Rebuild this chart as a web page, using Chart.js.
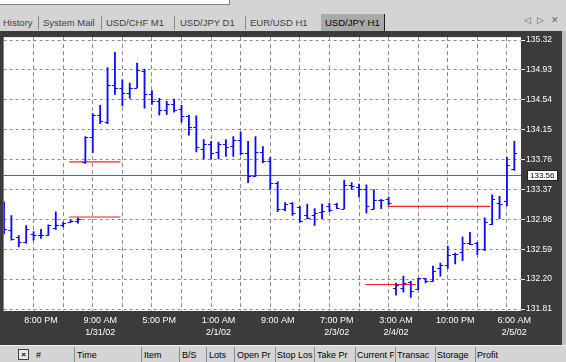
<!DOCTYPE html>
<html>
<head>
<meta charset="utf-8">
<script src="https://cdn.jsdelivr.net/npm/chart.js@4.4.1/dist/chart.umd.min.js"></script>
<style>
  body { margin: 0; width: 566px; height: 362px; overflow: hidden; position: relative;
         background: #d4d4d4; font-family: 'Liberation Sans', Arial, sans-serif; font-size: 9.5px; color: #000; }
  #topbox { position: absolute; left: 0; top: 0; width: 229px; height: 4px; background: #fff;
            border-right: 1px solid #808080; border-bottom: 1px solid #808080; }
  #tabs { position: absolute; left: 0; top: 11px; width: 566px; height: 20px; }
  .tab { position: absolute; top: 3px; height: 17px; line-height: 17px; color: #404040; white-space: nowrap; }
  .tab.on { background: #a9a9a9; color: #000; padding: 0 4px; border-right: 1px solid #202020; }
  .sep { position: absolute; top: 5px; width: 1px; height: 14px; background: #8a8a8a; }
  .nav { position: absolute; top: 4px; font-family: 'DejaVu Sans', sans-serif; font-size: 9px; color: #606060; }
  #chart-wrap { position: absolute; left: 0; top: 31px; width: 562px; height: 314px; background: #3b3b3b; }
  #rborder { position: absolute; left: 562px; top: 31px; width: 4px; height: 314px; background: #bdbdbd; }
  #terminal { position: absolute; left: 0; top: 345px; width: 566px; height: 17px; background: #d4d4d4;
              border-top: 1px solid #f0f0f0; font-size: 9px; }
  .col { position: absolute; top: 2px; line-height: 14px; white-space: nowrap; overflow: hidden; }
  .csep { position: absolute; top: 1px; width: 1px; height: 15px; background: #8a8a8a; }
  #xbtn { position: absolute; left: 18px; top: 3px; width: 9px; height: 9px; border: 1px solid #404040;
          background: #e8e8e8; font-size: 8px; line-height: 9px; text-align: center; font-weight: bold; }
</style>
</head>
<body>
<div id="topbox"></div>
<div id="tabs">
  <span class="tab" style="left:3px">History</span>
  <span class="sep" style="left:38px"></span>
  <span class="tab" style="left:43px">System Mail</span>
  <span class="sep" style="left:101px"></span>
  <span class="tab" style="left:106px">USD/CHF M1</span>
  <span class="sep" style="left:174px"></span>
  <span class="tab" style="left:180px">USD/JPY D1</span>
  <span class="sep" style="left:245px"></span>
  <span class="tab" style="left:250px">EUR/USD H1</span>
  <span class="tab on" style="left:321px">USD/JPY H1</span>
  <span class="nav" style="left:524px">◁</span>
  <span class="nav" style="left:537px">▷</span>
  <span class="nav" style="left:551px">✕</span>
</div>
<div id="chart-wrap"><canvas id="chart" width="562" height="314"></canvas></div>
<div id="rborder"></div>
<div id="terminal">
  <div id="xbtn">×</div>
  <span class="col" style="left:36px">#</span>
  <span class="csep" style="left:74px"></span><span class="col" style="left:77px;width:63px">Time</span>
  <span class="csep" style="left:141px"></span><span class="col" style="left:144px;width:34px">Item</span>
  <span class="csep" style="left:179px"></span><span class="col" style="left:182px;width:23px">B/S</span>
  <span class="csep" style="left:206px"></span><span class="col" style="left:209px;width:24px">Lots</span>
  <span class="csep" style="left:234px"></span><span class="col" style="left:237px;width:37px">Open Pr</span>
  <span class="csep" style="left:275px"></span><span class="col" style="left:277px;width:36px">Stop Los</span>
  <span class="csep" style="left:314px"></span><span class="col" style="left:317px;width:37px">Take Pr</span>
  <span class="csep" style="left:355px"></span><span class="col" style="left:357px;width:37px">Current P</span>
  <span class="csep" style="left:395px"></span><span class="col" style="left:397px;width:37px">Transac</span>
  <span class="csep" style="left:435px"></span><span class="col" style="left:437px;width:37px">Storage</span>
  <span class="csep" style="left:475px"></span><span class="col" style="left:477px">Profit</span>
</div>
<script>
// USD/JPY H1 bars, oldest first (bar index = position on the time axis)
const BAR_OPEN = [
  133.15, 132.84, 132.75, 132.68, 132.79, 132.77, 132.78, 132.87, 132.90, 132.95,
  132.96, 133.73, 134.05, 134.34, 134.25, 134.74, 134.70, 134.63, 134.70, 134.92,
  134.62, 134.53, 134.41, 134.48, 134.42, 134.33, 134.18, 133.90, 133.96, 133.86,
  133.96, 133.94, 134.02, 133.84, 133.54, 133.86, 133.74, 133.46, 133.12, 133.19,
  133.14, 133.04, 133.04, 133.08, 133.15, 133.18, 133.12, 133.43, 133.40, 133.37,
  133.12, 133.23, 133.24, 132.08, 132.09, 132.16, 132.07, 132.21, 132.18, 132.35,
  132.39, 132.53, 132.55, 132.67, 132.67, 132.59, 132.92, 133.19, 133.22, 133.64
];
const BAR_HIGH = [
  133.21, 133.03, 132.77, 132.90, 132.82, 132.85, 132.91, 133.08, 132.94, 132.97,
  133.00, 134.06, 134.36, 134.47, 134.96, 135.16, 134.80, 134.76, 135.02, 134.94,
  134.66, 134.56, 134.52, 134.55, 134.47, 134.34, 134.33, 134.02, 134.00, 133.99,
  134.02, 134.06, 134.12, 134.00, 134.06, 133.93, 133.79, 133.47, 133.20, 133.20,
  133.15, 133.18, 133.12, 133.18, 133.19, 133.19, 133.49, 133.46, 133.44, 133.43,
  133.37, 133.24, 133.27, 132.15, 132.24, 132.17, 132.21, 132.21, 132.37, 132.41,
  132.63, 132.54, 132.75, 132.81, 132.68, 133.00, 133.30, 133.28, 133.79, 134.00
];
const BAR_LOW = [
  132.79, 132.71, 132.62, 132.67, 132.71, 132.73, 132.77, 132.85, 132.88, 132.94,
  132.93, 133.71, 133.85, 134.23, 134.23, 134.61, 134.46, 134.56, 134.70, 134.43,
  134.48, 134.34, 134.35, 134.38, 134.25, 134.08, 133.86, 133.77, 133.77, 133.77,
  133.80, 133.80, 133.82, 133.46, 133.54, 133.72, 133.37, 133.08, 133.09, 133.03,
  132.94, 132.99, 132.90, 132.99, 133.08, 133.12, 133.12, 133.37, 133.27, 133.06,
  133.11, 133.12, 133.17, 131.99, 132.03, 131.96, 132.06, 132.15, 132.17, 132.24,
  132.34, 132.40, 132.44, 132.65, 132.52, 132.57, 132.91, 132.99, 133.16, 133.62
];
const BAR_CLOSE = [
  132.86, 132.72, 132.69, 132.85, 132.77, 132.78, 132.90, 132.90, 132.93, 132.96,
  132.99, 134.05, 134.34, 134.26, 134.74, 134.70, 134.63, 134.70, 134.93, 134.61,
  134.53, 134.41, 134.48, 134.41, 134.33, 134.18, 133.92, 133.96, 133.85, 133.96,
  133.93, 134.02, 133.84, 133.54, 133.86, 133.74, 133.46, 133.12, 133.18, 133.06,
  132.96, 133.00, 133.06, 133.09, 133.10, 133.13, 133.43, 133.41, 133.38, 133.15,
  133.23, 133.23, 133.19, 132.12, 132.15, 132.05, 132.21, 132.18, 132.31, 132.39,
  132.52, 132.53, 132.67, 132.66, 132.59, 132.94, 133.25, 133.18, 133.69, 133.84
];

// time axis labels and the bars they sit under
const LABEL_BARS = [5, 13, 21, 29, 37, 45, 53, 61, 69];
const TIME_LABELS = [
  ['8:00 PM'], ['9:00 AM', '1/31/02'], ['5:00 PM'], ['1:00 AM', '2/1/02'], ['9:00 AM'],
  ['7:00 PM', '2/3/02'], ['3:00 AM', '2/4/02'], ['10:00 PM'], ['6:00 AM', '2/5/02']
];

// price scale
const PRICE_TICKS = [135.32, 134.93, 134.54, 134.15, 133.76, 133.37, 132.98, 132.59, 132.20, 131.81];
const Y_MIN = 131.784;
const Y_MAX = 135.359;
const X_MIN = -0.05;
const X_MAX = 69.9;
const BID_PRICE = 133.56;

// order levels drawn as red lines: price, first bar, last bar
const ORDER_PRICE = [133.73, 133.01, 133.15, 132.13];
const ORDER_FROM = [8.81, 8.81, 51.87, 48.82];
const ORDER_TO = [15.75, 15.75, 65.74, 55.67];

const GRID = '#8a8a8a';
const BAR_BLUE = '#0a0aff';
const FONT = "'Liberation Sans', Arial, sans-serif";

const BAR_INDEX = BAR_HIGH.map((_, i) => i);

// white plot area, bid line under the bars, bid box on the price scale
const terminalPlot = {
  id: 'terminalPlot',
  beforeDraw(chart) {
    const { ctx, chartArea: a } = chart;
    ctx.save();
    ctx.fillStyle = '#ffffff';
    ctx.fillRect(a.left, a.top, a.right - a.left, a.bottom - a.top);
    ctx.restore();
  },
  beforeDatasetsDraw(chart) {
    const { ctx, chartArea: a, scales: { y } } = chart;
    const py = Math.round(y.getPixelForValue(BID_PRICE)) + 0.5;
    ctx.save();
    ctx.strokeStyle = '#2a8080';
    ctx.lineWidth = 1;
    ctx.beginPath();
    ctx.moveTo(a.left, py);
    ctx.lineTo(a.right, py);
    ctx.stroke();
    ctx.restore();
  },
  afterDraw(chart) {
    const { ctx, chartArea: a, scales: { y } } = chart;
    const py = Math.round(y.getPixelForValue(BID_PRICE));
    ctx.save();
    ctx.fillStyle = '#ffffff';
    ctx.fillRect(a.right + 6, py - 5, 31, 11);
    ctx.strokeStyle = '#202020';
    ctx.strokeRect(a.right + 6.5, py - 4.5, 30, 10);
    ctx.fillStyle = '#000000';
    ctx.font = '8px ' + FONT;
    ctx.textBaseline = 'middle';
    ctx.fillText(BID_PRICE.toFixed(2), a.right + 9, py + 0.5);
    ctx.restore();
  }
};

// open tick on the left, close tick on the right of each bar
const ohlcTicks = {
  id: 'ohlcTicks',
  afterDatasetsDraw(chart) {
    const { ctx, chartArea: a, scales: { x, y } } = chart;
    ctx.save();
    ctx.beginPath();
    ctx.rect(a.left, a.top, a.right - a.left, a.bottom - a.top);
    ctx.clip();
    ctx.strokeStyle = BAR_BLUE;
    ctx.lineWidth = 1;
    BAR_INDEX.forEach(i => {
      const px = x.getPixelForValue(i);
      const po = Math.round(y.getPixelForValue(BAR_OPEN[i])) + 0.5;
      const pc = Math.round(y.getPixelForValue(BAR_CLOSE[i])) + 0.5;
      ctx.beginPath();
      ctx.moveTo(px - 3, po);
      ctx.lineTo(px, po);
      ctx.moveTo(px, pc);
      ctx.lineTo(px + 3, pc);
      ctx.stroke();
    });
    ctx.restore();
  }
};

const orderSets = ORDER_PRICE.map((p, k) => ({
  type: 'line',
  data: [{ x: ORDER_FROM[k], y: p }, { x: ORDER_TO[k], y: p }],
  borderColor: '#ff2020',
  borderWidth: 1.1,
  pointRadius: 0,
  order: 2
}));

new Chart(document.getElementById('chart'), {
  type: 'bar',
  data: {
    datasets: [{
      type: 'bar',
      data: BAR_INDEX.map(i => ({ x: i, y: [BAR_LOW[i], BAR_HIGH[i]] })),
      backgroundColor: BAR_BLUE,
      borderWidth: 0,
      barThickness: 1.15,
      grouped: false,
      order: 1
    }, ...orderSets]
  },
  options: {
    responsive: false,
    animation: false,
    layout: { padding: { top: 6, left: 0, right: 0, bottom: 0 } },
    plugins: { legend: { display: false }, tooltip: { enabled: false } },
    scales: {
      x: {
        type: 'linear',
        min: X_MIN,
        max: X_MAX,
        offset: false,
        afterBuildTicks: s => { s.ticks = BAR_INDEX.map(v => ({ value: v })); },
        afterFit: s => { s.height = 34; },
        grid: {
          offset: false,
          drawTicks: false,
          lineWidth: 1,
          color: c => (c.tick && c.tick.value > 0 && c.tick.value % 4 === 0) ? GRID : 'rgba(0,0,0,0)'
        },
        border: { display: false, dash: [4, 3] },
        ticks: {
          autoSkip: false,
          maxRotation: 0,
          color: '#ffffff',
          padding: 4,
          font: { size: 9, family: FONT, lineHeight: 1.3 },
          callback: v => {
            const k = LABEL_BARS.indexOf(v);
            return k < 0 ? '' : TIME_LABELS[k];
          }
        }
      },
      y: {
        position: 'right',
        min: Y_MIN,
        max: Y_MAX,
        afterBuildTicks: s => { s.ticks = PRICE_TICKS.map(v => ({ value: v })); },
        afterFit: s => { s.width = 41; },
        grid: { color: GRID, lineWidth: 1, drawTicks: true, tickLength: 4, tickColor: '#ffffff', tickBorderDash: [] },
        border: { display: false, dash: [3, 3] },
        ticks: {
          color: '#ffffff',
          padding: 1,
          font: { size: 8.5, family: FONT },
          callback: v => v.toFixed(2)
        }
      }
    }
  },
  plugins: [terminalPlot, ohlcTicks]
});
</script>
</body>
</html>
